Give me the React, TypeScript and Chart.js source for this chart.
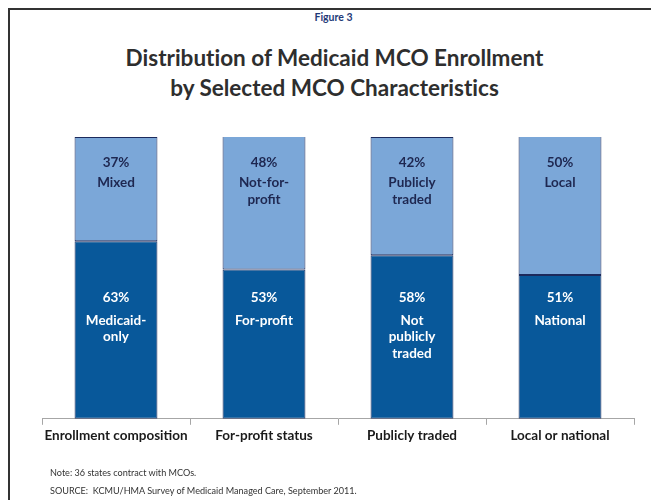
import React, { useEffect, useRef } from "react";
import { Chart, registerables } from "chart.js";

Chart.register(...registerables);

const categories = ["Enrollment composition", "For-profit status", "Publicly traded", "Local or national"];
const bottomValues = [63, 53, 58, 51];
const topValues = [37, 48, 42, 50];
const bottomNames = [["Medicaid-", "only"], ["For-profit"], ["Not", "publicly", "traded"], ["National"]];
const topNames = [["Mixed"], ["Not-for-", "profit"], ["Publicly", "traded"], ["Local"]];
const figureLabel = "Figure 3";
const titleLines = ["Distribution of Medicaid MCO Enrollment", "by Selected MCO Characteristics"];
const noteLines = ["Note: 36 states contract with MCOs.", "SOURCE:  KCMU/HMA Survey of Medicaid Managed Care, September 2011."];

const DARK = "#08589A";
const LIGHT = "#7BA7D8";
const EDGE = "#1C2A5C";
const FONT = "Lato, 'Open Sans', sans-serif";

const segmentLabels = {
  id: "segmentLabels",
  afterDatasetsDraw(chart: any) {
    const ctx = chart.ctx;
    const y = chart.scales.y;
    const metaBottom = chart.getDatasetMeta(0);
    ctx.save();
    ctx.textAlign = "center";
    ctx.textBaseline = "middle";
    ctx.font = `bold 13.5px ${FONT}`;
    const lh = 16.5;
    categories.forEach((_, i) => {
      const x = metaBottom.data[i].x;
      ctx.fillStyle = "#1E2750";
      ctx.fillText(`${topValues[i]}%`, x, y.getPixelForValue(91.6) + 1.5);
      topNames[i].forEach((t, j) => ctx.fillText(t, x, y.getPixelForValue(84.2) + 1.5 + j * lh));
      ctx.fillStyle = "#FFFFFF";
      ctx.fillText(`${bottomValues[i]}%`, x, y.getPixelForValue(43.5) + 1);
      bottomNames[i].forEach((t, j) => ctx.fillText(t, x, y.getPixelForValue(35.2) + 1 + j * lh));
    });
    ctx.restore();
  },
};

export default function App() {
  const ref = useRef<HTMLCanvasElement>(null);
  useEffect(() => {
    document.body.style.overflow = "hidden";
    const chart = new Chart(ref.current!, {
      type: "bar",
      data: {
        labels: categories,
        datasets: [
          {
            data: bottomValues,
            backgroundColor: DARK,
            borderColor: EDGE,
            borderWidth: 1,
            borderSkipped: false,
            barPercentage: 0.56,
            categoryPercentage: 1,
          },
          {
            data: topValues,
            backgroundColor: LIGHT,
            borderColor: EDGE,
            borderWidth: 1,
            borderSkipped: false,
            barPercentage: 0.56,
            categoryPercentage: 1,
          },
        ],
      },
      options: {
        animation: false,
        responsive: false,
        layout: { padding: { left: 34, right: 25, top: 129, bottom: 53 } },
        plugins: {
          legend: { display: false },
          tooltip: { enabled: false },
        },
        scales: {
          x: {
            stacked: true,
            offset: true,
            grid: {
              display: true,
              offset: true,
              drawOnChartArea: false,
              drawTicks: true,
              tickLength: 6,
              color: "#A6A6A6",
            },
            border: { display: true, color: "#A6A6A6", width: 1 },
            ticks: {
              color: "#1A1A1A",
              padding: 3,
              maxRotation: 0,
              autoSkip: false,
              font: { family: FONT, size: 13.5, weight: "bold", lineHeight: 1.2 },
            },
          },
          y: {
            stacked: true,
            display: false,
            min: 0,
            max: 100,
          },
        },
      },
      plugins: [segmentLabels],
    });
    return () => chart.destroy();
  }, []);

  const textBase: React.CSSProperties = {
    position: "absolute",
    left: 0,
    width: 651,
    textAlign: "center",
    fontFamily: FONT,
    fontWeight: "bold",
    fontVariantLigatures: "none",
    whiteSpace: "nowrap",
  };

  return (
    <div style={{ position: "relative", width: 651, height: 492 }}>
      <div
        style={{
          position: "absolute",
          left: 0,
          top: 0,
          width: 651,
          height: 492,
          boxSizing: "border-box",
          borderLeft: "2px solid #333",
          borderTop: "2px solid #333",
        }}
      />
      <div style={{ ...textBase, left: 0, top: 3, fontSize: 10.5, lineHeight: "12px", color: "#1F3A78" }}>{figureLabel}</div>
      <div style={{ ...textBase, left: 1, top: 35, fontSize: 22.5, lineHeight: "30px", color: "#2E2E2E" }}>
        {titleLines.map((t, i) => (
          <div key={i}>{t}</div>
        ))}
      </div>
      <canvas ref={ref} width={651} height={492} style={{ position: "absolute", left: 0, top: 0 }} />
      <div
        style={{
          position: "absolute",
          left: 42,
          top: 456,
          fontFamily: FONT,
          fontSize: 9.1,
          lineHeight: "18px",
          color: "#333",
          whiteSpace: "pre",
        }}
      >
        {noteLines.map((t, i) => (
          <div key={i}>{t}</div>
        ))}
      </div>
    </div>
  );
}
